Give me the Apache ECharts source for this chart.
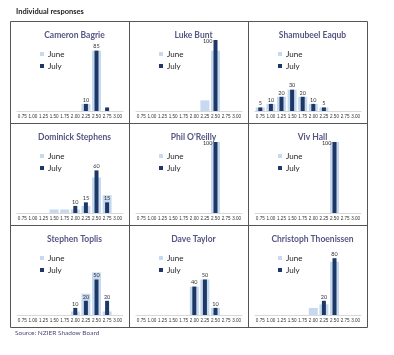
<!DOCTYPE html>
<html>
<head>
<meta charset="utf-8">
<script src="https://cdn.jsdelivr.net/npm/echarts@6/dist/echarts.min.js"></script>
<style>
  html, body { margin: 0; padding: 0; background: #fff; }
  #chart { width: 394px; height: 355px; }
</style>
</head>
<body>
<div id="chart"></div>
<script>
// rate buckets (x axis)
const categories = ['0.75', '1.00', '1.25', '1.50', '1.75', '2.00', '2.25', '2.50', '2.75', '3.00']

// one pair of arrays per panel, % of responses per bucket
const bagrieJune = [0, 0, 0, 0, 0, 0, 10, 85, 0, 0]
const bagrieJuly = [0, 0, 0, 0, 0, 0, 10, 85, 5, 0]
const buntJune = [0, 0, 0, 0, 0, 0, 15, 85, 0, 0]
const buntJuly = [0, 0, 0, 0, 0, 0, 0, 100, 0, 0]
const eaqubJune = [5, 10, 20, 30, 20, 10, 5, 0, 0, 0]
const eaqubJuly = [5, 10, 20, 30, 20, 10, 5, 0, 0, 0]
const stephensJune = [0, 0, 0, 5, 5, 5, 10, 50, 25, 0]
const stephensJuly = [0, 0, 0, 0, 0, 10, 15, 60, 15, 0]
const oreillyJune = [0, 0, 0, 0, 0, 0, 0, 100, 0, 0]
const oreillyJuly = [0, 0, 0, 0, 0, 0, 0, 100, 0, 0]
const hallJune = [0, 0, 0, 0, 0, 0, 0, 100, 0, 0]
const hallJuly = [0, 0, 0, 0, 0, 0, 0, 100, 0, 0]
const toplisJune = [0, 0, 0, 0, 0, 5, 30, 60, 5, 0]
const toplisJuly = [0, 0, 0, 0, 0, 10, 20, 50, 20, 0]
const taylorJune = [0, 0, 0, 0, 0, 40, 50, 10, 0, 0]
const taylorJuly = [0, 0, 0, 0, 0, 40, 50, 10, 0, 0]
const thoenissenJune = [0, 0, 0, 0, 0, 10, 15, 75, 0, 0]
const thoenissenJuly = [0, 0, 0, 0, 0, 0, 20, 80, 0, 0]

const panels = [
  ['Cameron Bagrie', bagrieJune, bagrieJuly],
  ['Luke Bunt', buntJune, buntJuly],
  ['Shamubeel Eaqub', eaqubJune, eaqubJuly],
  ['Dominick Stephens', stephensJune, stephensJuly],
  ["Phil O'Reilly", oreillyJune, oreillyJuly],
  ['Viv Hall', hallJune, hallJuly],
  ['Stephen Toplis', toplisJune, toplisJuly],
  ['Dave Taylor', taylorJune, taylorJuly],
  ['Christoph Thoenissen', thoenissenJune, thoenissenJuly]
]

const font = 'Lato'
const lightBlue = '#c6d9ef'
const navy = '#1d3866'
const colX = [10, 129, 248]
const rowY = [21, 123, 225]
const panelW = 119

const chart = echarts.init(document.getElementById('chart'))

const title = [{
  text: 'Individual responses',
  left: 11, top: 3,
  textStyle: { fontSize: 7.5, fontWeight: 'bold', color: '#222', fontFamily: font }
}]
const legend = []
const grid = []
const xAxis = []
const yAxis = []
const series = []
const graphic = []

// July value labels: small bars (<10) in Bagrie's panel carry no label in the source,
// a full 100 bar gets its label beside the top
function julyData(vals, i) {
  return vals.map(v => {
    if (v >= 100) {
      return { value: v, label: { position: [-1, 1], align: 'right', verticalAlign: 'middle' } }
    }
    if (i === 0 && v < 10) return { value: v, label: { show: false } }
    return v
  })
}

panels.forEach((p, i) => {
  const x0 = colX[i % 3]
  const y0 = rowY[Math.floor(i / 3)]

  title.push({
    text: p[0],
    left: x0 + panelW / 2, top: y0 + 5, textAlign: 'center',
    textStyle: { fontSize: 8.5, fontWeight: 'bold', color: '#565685', fontFamily: font }
  })
  legend.push({
    data: ['June', 'July'],
    orient: 'vertical',
    left: x0 + 25, top: y0 + 24,
    icon: 'rect', itemWidth: 4, itemHeight: 4, itemGap: 4,
    selectedMode: false,
    textStyle: { fontSize: 8, color: '#222', fontFamily: font, padding: [0, 0, 0, -1] }
  })
  grid.push({ left: x0 + 7, top: y0 + 19, width: 106, height: 71 })
  xAxis.push({
    type: 'category', gridIndex: i, data: categories,
    axisLine: { lineStyle: { color: '#d9d9d9' } },
    axisTick: { show: false },
    axisLabel: {
      interval: 0, fontSize: 4.6, color: '#333', margin: 3,
      fontFamily: 'Liberation Sans'
    }
  })
  xAxis.push({ type: 'category', gridIndex: i, data: categories, show: false })
  yAxis.push({ type: 'value', gridIndex: i, min: 0, max: 100, show: false, splitLine: { show: false } })
  series.push({
    name: 'June', type: 'bar', xAxisIndex: 2 * i, yAxisIndex: i,
    data: p[1], barWidth: 9, itemStyle: { color: lightBlue }, silent: true
  })
  series.push({
    name: 'July', type: 'bar', xAxisIndex: 2 * i + 1, yAxisIndex: i,
    data: julyData(p[2], i), barWidth: 4, itemStyle: { color: navy }, silent: true,
    label: {
      show: true, position: 'top', distance: 1, fontSize: 5.5, color: '#333', fontFamily: font,
      formatter: d => (d.value > 0 ? d.value : '')
    }
  })
})

// panel frame lines
const frame = { stroke: '#555', lineWidth: 1 }
graphic.push({ type: 'rect', shape: { x: 10.5, y: 21.5, width: 357, height: 306 }, style: { fill: 'none', ...frame } })
;[129.5, 248.5].forEach(x => {
  graphic.push({ type: 'line', shape: { x1: x, y1: 21.5, x2: x, y2: 327.5 }, style: frame })
})
;[123.5, 225.5].forEach(y => {
  graphic.push({ type: 'line', shape: { x1: 10.5, y1: y, x2: 367.5, y2: y }, style: frame })
})
graphic.push({
  type: 'text', left: 15, top: 329,
  style: { text: 'Source: NZIER Shadow Board', fontSize: 6.5, fill: '#4b4b7a', fontFamily: font }
})

chart.setOption({
  animation: false,
  backgroundColor: '#fff',
  title,
  legend,
  grid,
  xAxis,
  yAxis,
  series,
  graphic
})
</script>
</body>
</html>
